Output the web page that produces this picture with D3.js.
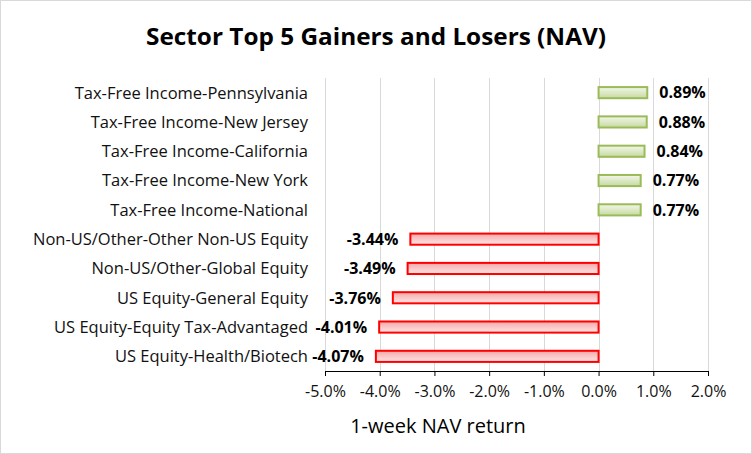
<!DOCTYPE html>
<html>
<head>
<meta charset="utf-8">
<script src="https://cdn.jsdelivr.net/npm/d3@7"></script>
<style>
  body { margin: 0; background: #fff; }
  text { font-family: "Open Sans", "Noto Sans", sans-serif; }
</style>
</head>
<body>
<div id="chart"></div>
<script>
// ----- Data -------
const categories = [
  "Tax-Free Income-Pennsylvania",
  "Tax-Free Income-New Jersey",
  "Tax-Free Income-California",
  "Tax-Free Income-New York",
  "Tax-Free Income-National",
  "Non-US/Other-Other Non-US Equity",
  "Non-US/Other-Global Equity",
  "US Equity-General Equity",
  "US Equity-Equity Tax-Advantaged",
  "US Equity-Health/Biotech"
];
const returns = [0.0089, 0.0088, 0.0084, 0.0077, 0.0077, -0.0344, -0.0349, -0.0376, -0.0401, -0.0407];
const tickValues = [-0.05, -0.04, -0.03, -0.02, -0.01, 0, 0.01, 0.02];

const W = 752, H = 454;
const svg = d3.select("#chart").append("svg").attr("width", W).attr("height", H);

// hyphen instead of unicode minus, like Excel
const pct = p => (v => d3.format('.' + p + '%')(v).replace('\u2212', '-'));

// chart border
svg.append('rect')
  .attr('x', 0.5).attr('y', 0.5)
  .attr('width', W - 1).attr('height', H - 1)
  .attr('fill', 'white')
  .attr('stroke', '#d9d9d9');

// gradients
const defs = svg.append('defs');
const gGreen = defs.append('linearGradient').attr('id', 'gGreen').attr('x1', 0).attr('y1', 0).attr('x2', 0).attr('y2', 1);
gGreen.append('stop').attr('offset', '0%').attr('stop-color', '#f2f7ea');
gGreen.append('stop').attr('offset', '100%').attr('stop-color', '#c6daa0');
const gRed = defs.append('linearGradient').attr('id', 'gRed').attr('x1', 0).attr('y1', 0).attr('x2', 0).attr('y2', 1);
gRed.append('stop').attr('offset', '0%').attr('stop-color', '#f7a8a8');
gRed.append('stop').attr('offset', '100%').attr('stop-color', '#fde6e6');

// ----- Scales -------
const x = d3.scaleLinear().domain([-0.05, 0.02]).range([325, 708]);
const y = d3.scaleBand().domain(categories).range([78, 371]).paddingInner(0.62).paddingOuter(0.31);

// gridlines
svg.append('g')
  .selectAll('line')
  .data(tickValues)
  .join('line')
  .attr('x1', d => Math.round(x(d)) + 0.5)
  .attr('x2', d => Math.round(x(d)) + 0.5)
  .attr('y1', 78)
  .attr('y2', 371)
  .attr('stroke', '#d9d9d9');

// ----- Bars -------
svg.append('g')
  .selectAll('rect')
  .data(returns)
  .join('rect')
  .attr('x', d => x(Math.min(0, d)))
  .attr('y', (d, i) => y(categories[i]))
  .attr('width', d => Math.abs(x(d) - x(0)))
  .attr('height', y.bandwidth())
  .attr('fill', d => d >= 0 ? 'url(#gGreen)' : 'url(#gRed)')
  .attr('stroke', d => d >= 0 ? '#9bbb59' : '#ff0000')
  .attr('stroke-width', 2);

// data labels
svg.append('g')
  .selectAll('text')
  .data(returns)
  .join('text')
  .attr('x', d => d >= 0 ? x(d) + 12 : x(d) - 12)
  .attr('y', (d, i) => y(categories[i]) + y.bandwidth() / 2)
  .attr('dy', '0.36em')
  .attr('text-anchor', d => d >= 0 ? 'start' : 'end')
  .style('font-size', '16px')
  .style('font-weight', 'bold')
  .attr('fill', '#000')
  .text(pct(2));

// category labels
svg.append('g')
  .selectAll('text')
  .data(categories)
  .join('text')
  .attr('x', 308)
  .attr('y', d => y(d) + y.bandwidth() / 2)
  .attr('dy', '0.36em')
  .attr('text-anchor', 'end')
  .style('font-size', '16.5px')
  .attr('fill', '#111')
  .text(d => d);

// ----- X axis -------
const xAxis = svg.append('g')
  .attr('transform', 'translate(0,371)')
  .call(d3.axisBottom(x).tickValues(tickValues).tickFormat(pct(1)).tickSize(5).tickSizeOuter(0));
xAxis.select('.domain').attr('stroke', '#000');
xAxis.selectAll('.tick line').attr('stroke', '#000');
xAxis.selectAll('.tick text')
  .attr('y', 15)
  .style('font-size', '16px')
  .style('font-family', '"Open Sans", sans-serif')
  .attr('fill', '#111');

svg.append('text')
  .attr('x', 438)
  .attr('y', 433)
  .attr('text-anchor', 'middle')
  .style('font-size', '20px')
  .attr('fill', '#000')
  .text('1-week NAV return');

// ----- Title -------
svg.append('text')
  .attr('x', 376)
  .attr('y', 45)
  .attr('text-anchor', 'middle')
  .style('font-size', '23px')
  .style('font-weight', 'bold')
  .attr('textLength', 460)
  .attr('lengthAdjust', 'spacingAndGlyphs')
  .text('Sector Top 5 Gainers and Losers (NAV)');
</script>
</body>
</html>
